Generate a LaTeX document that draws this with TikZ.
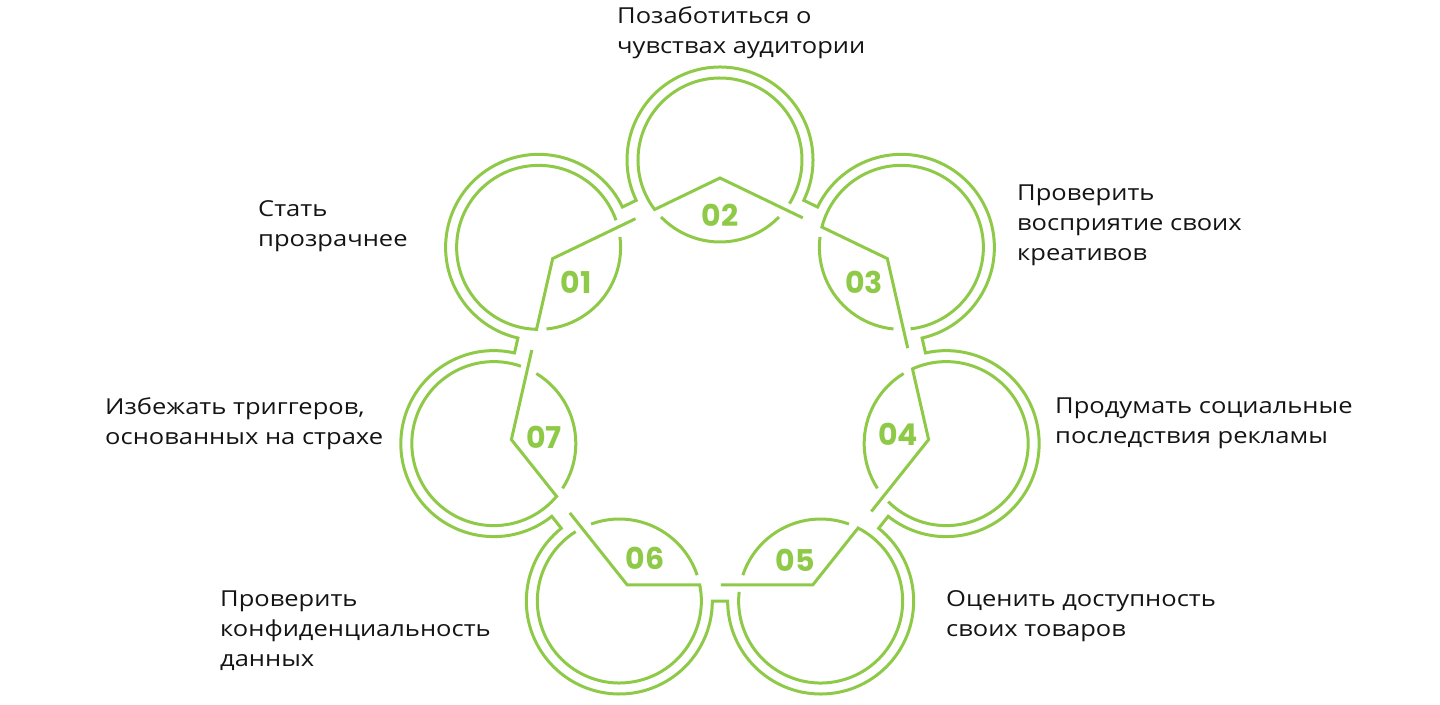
\documentclass[tikz,border=0pt]{standalone}
\usepackage{fontspec}
\setmainfont{Open Sans}[FakeStretch=1.16]
\newfontfamily\numfont{Poppins}
\usetikzlibrary{calc}
\definecolor{lgreen}{RGB}{142,201,72}
\definecolor{txt}{RGB}{20,20,20}
\begin{document}
\begin{tikzpicture}[x=1pt,y=1pt,
  ln/.style={draw=lgreen,line width=3pt},
  numlbl/.style={text=lgreen,font=\numfont\bfseries\fontsize{30}{30}\selectfont,inner sep=0pt},
  caption/.style={text=txt,font=\fontsize{22}{30}\selectfont,align=left,anchor=west,inner sep=0pt}]
\useasboundingbox (-720,-312) rectangle (720,392);
% outer contour
\draw[ln] ($(90:232)+(90-115.714:93)$)
  foreach \j [evaluate=\j as \th using 90+360/7*\j] in {0,...,5} {
    arc[start angle=\th-115.714, delta angle=231.428, radius=93]
    -- ($(\th+51.4286:232)+(\th-64.286:93)$) }
  arc[start angle=282.857, delta angle=231.428, radius=93] -- cycle;
% inner circles and heptagon pieces
\foreach \j/\lab in {0/02,1/01,2/07,3/06,4/05,5/04,6/03} {
  \pgfmathsetmacro\th{90+360/7*\j}
  \coordinate (C\lab) at (\th:232);
  \coordinate (A\lab) at (\th:214);
  \coordinate (E\lab) at ($(A\lab)+(\th-115.714:91.9)$);
  \coordinate (J\lab) at ($(C\lab)+(\th+127.12:82)$);
  \draw[ln] (E\lab) -- (A\lab) -- (J\lab)
    arc[start angle=\th+127.12, end angle=\th-122.12, radius=82];
  \draw[ln] ($(C\lab)+(\th+134.12:82)$)
    arc[start angle=\th+134.12, end angle=\th+225.88, radius=82];
}
% numbers
\node[numlbl] (n02) at (0,177) {02};
\node[numlbl] (n01) at (-144,110) {01};
\node[numlbl] (n03) at (144,110) {03};
\node[numlbl] (n07) at (-176,-45) {07};
\node[numlbl] (n04) at (178,-42) {04};
\node[numlbl] (n06) at (-75,-166) {06};
\node[numlbl] (n05) at (75,-168) {05};
% captions
\node[caption] (t02) at (-103,359) {Позаботиться о\\чувствах аудитории};
\node[caption] (t01) at (-462,166) {Стать\\прозрачнее};
\node[caption] (t03) at (297,167) {Проверить\\восприятие своих\\креативов};
\node[caption] (t07) at (-615,-32) {Избежать триггеров,\\основанных на страхе};
\node[caption] (t04) at (335,-31) {Продумать социальные\\последствия рекламы};
\node[caption] (t06) at (-500,-239) {Проверить\\конфиденциальность\\данных};
\node[caption] (t05) at (226,-224) {Оценить доступность\\своих товаров};
\end{tikzpicture}
\end{document}
